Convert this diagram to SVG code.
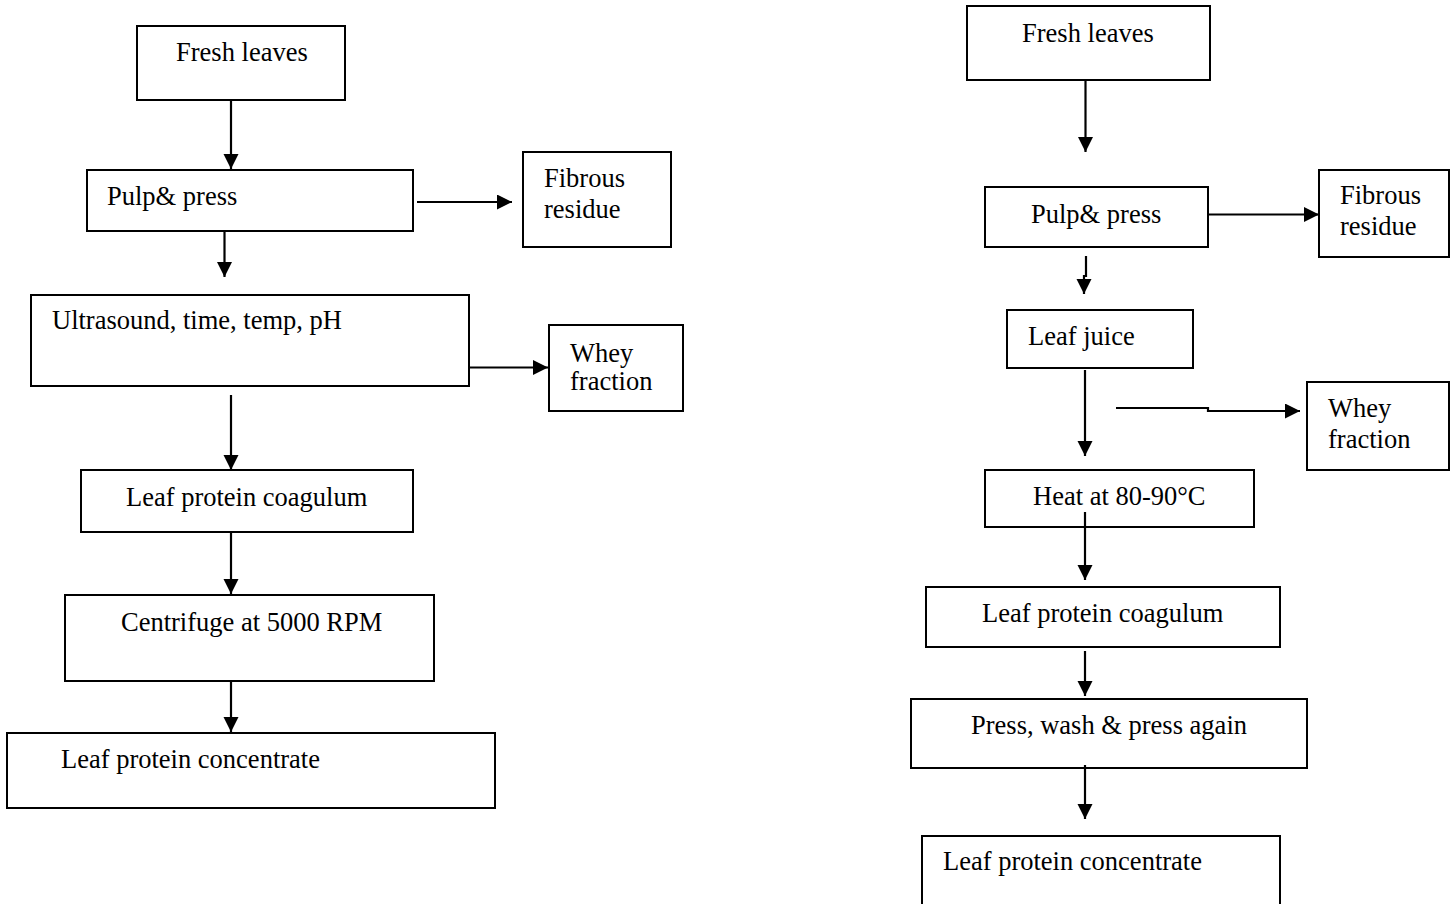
<svg xmlns="http://www.w3.org/2000/svg" width="1456" height="904" viewBox="0 0 1456 904">
<style>
.box{fill:#fff;stroke:#000;stroke-width:2}
.t{font-family:"Liberation Serif","Times New Roman",serif;font-size:26.5px;fill:#000}
.c{fill:none;stroke:#000;stroke-width:2.2}
</style>
<defs>
<marker id="ah" markerUnits="userSpaceOnUse" markerWidth="16" markerHeight="16" refX="15" refY="7.5" orient="auto">
<path d="M0,0 L15,7.5 L0,15 z" fill="#000"/>
</marker>
</defs>
<rect width="1456" height="904" fill="#fff"/>
<g id="L1"><rect class="box" x="137" y="26" width="208" height="74"/><text class="t" x="176" y="61">Fresh leaves</text></g>
<g id="L2"><rect class="box" x="87" y="170" width="326" height="61"/><text class="t" x="107" y="205">Pulp&amp; press</text></g>
<g id="L3"><rect class="box" x="523" y="152" width="148" height="95"/><text class="t" x="544" y="187">Fibrous</text><text class="t" x="544" y="218">residue</text></g>
<g id="L4"><rect class="box" x="31" y="295" width="438" height="91"/><text class="t" x="52" y="329">Ultrasound, time, temp, pH</text></g>
<g id="L5"><rect class="box" x="549" y="325" width="134" height="86"/><text class="t" x="570" y="362">Whey</text><text class="t" x="570" y="390">fraction</text></g>
<g id="L6"><rect class="box" x="81" y="470" width="332" height="62"/><text class="t" x="126" y="506">Leaf protein coagulum</text></g>
<g id="L7"><rect class="box" x="65" y="595" width="369" height="86"/><text class="t" x="121" y="631">Centrifuge at 5000 RPM</text></g>
<g id="L8"><rect class="box" x="7" y="733" width="488" height="75"/><text class="t" x="61" y="768">Leaf protein concentrate</text></g>
<g id="R1"><rect class="box" x="967" y="6" width="243" height="74"/><text class="t" x="1022" y="42">Fresh leaves</text></g>
<g id="R2"><rect class="box" x="985" y="187" width="223" height="60"/><text class="t" x="1031" y="223">Pulp&amp; press</text></g>
<g id="R3"><rect class="box" x="1319" y="170" width="130" height="87"/><text class="t" x="1340" y="204">Fibrous</text><text class="t" x="1340" y="235">residue</text></g>
<g id="R4"><rect class="box" x="1007" y="310" width="186" height="58"/><text class="t" x="1028" y="345">Leaf juice</text></g>
<g id="R5"><rect class="box" x="1307" y="382" width="142" height="88"/><text class="t" x="1328" y="417">Whey</text><text class="t" x="1328" y="448">fraction</text></g>
<g id="R6"><rect class="box" x="985" y="470" width="269" height="57"/><text class="t" x="1033" y="505">Heat at 80-90°C</text></g>
<g id="R7"><rect class="box" x="926" y="587" width="354" height="60"/><text class="t" x="982" y="622">Leaf protein coagulum</text></g>
<g id="R8"><rect class="box" x="911" y="699" width="396" height="69"/><text class="t" x="971" y="734">Press, wash &amp; press again</text></g>
<g id="R9"><rect class="box" x="922" y="836" width="358" height="80"/><text class="t" x="943" y="870">Leaf protein concentrate</text></g>
<g id="connectors">
<path class="c" marker-end="url(#ah)" d="M231,100 V169"/>
<path class="c" marker-end="url(#ah)" d="M417,202 H512"/>
<path class="c" marker-end="url(#ah)" d="M224.5,231 V277"/>
<path class="c" marker-end="url(#ah)" d="M469,367.5 H548"/>
<path class="c" marker-end="url(#ah)" d="M231,395 V470"/>
<path class="c" marker-end="url(#ah)" d="M231,533 V594"/>
<path class="c" marker-end="url(#ah)" d="M231,681 V732"/>
<path class="c" marker-end="url(#ah)" d="M1085.5,80 V152"/>
<path class="c" marker-end="url(#ah)" d="M1208,214.5 H1319"/>
<path class="c" marker-end="url(#ah)" d="M1086,256 V276 H1084 V294"/>
<path class="c" marker-end="url(#ah)" d="M1085,370 V456"/>
<path class="c" marker-end="url(#ah)" d="M1116,408 H1208 V411 H1300"/>
<path class="c" marker-end="url(#ah)" d="M1085,512 V580"/>
<path class="c" marker-end="url(#ah)" d="M1085,651 V696"/>
<path class="c" marker-end="url(#ah)" d="M1085,765 V819"/>
</g>
</svg>
